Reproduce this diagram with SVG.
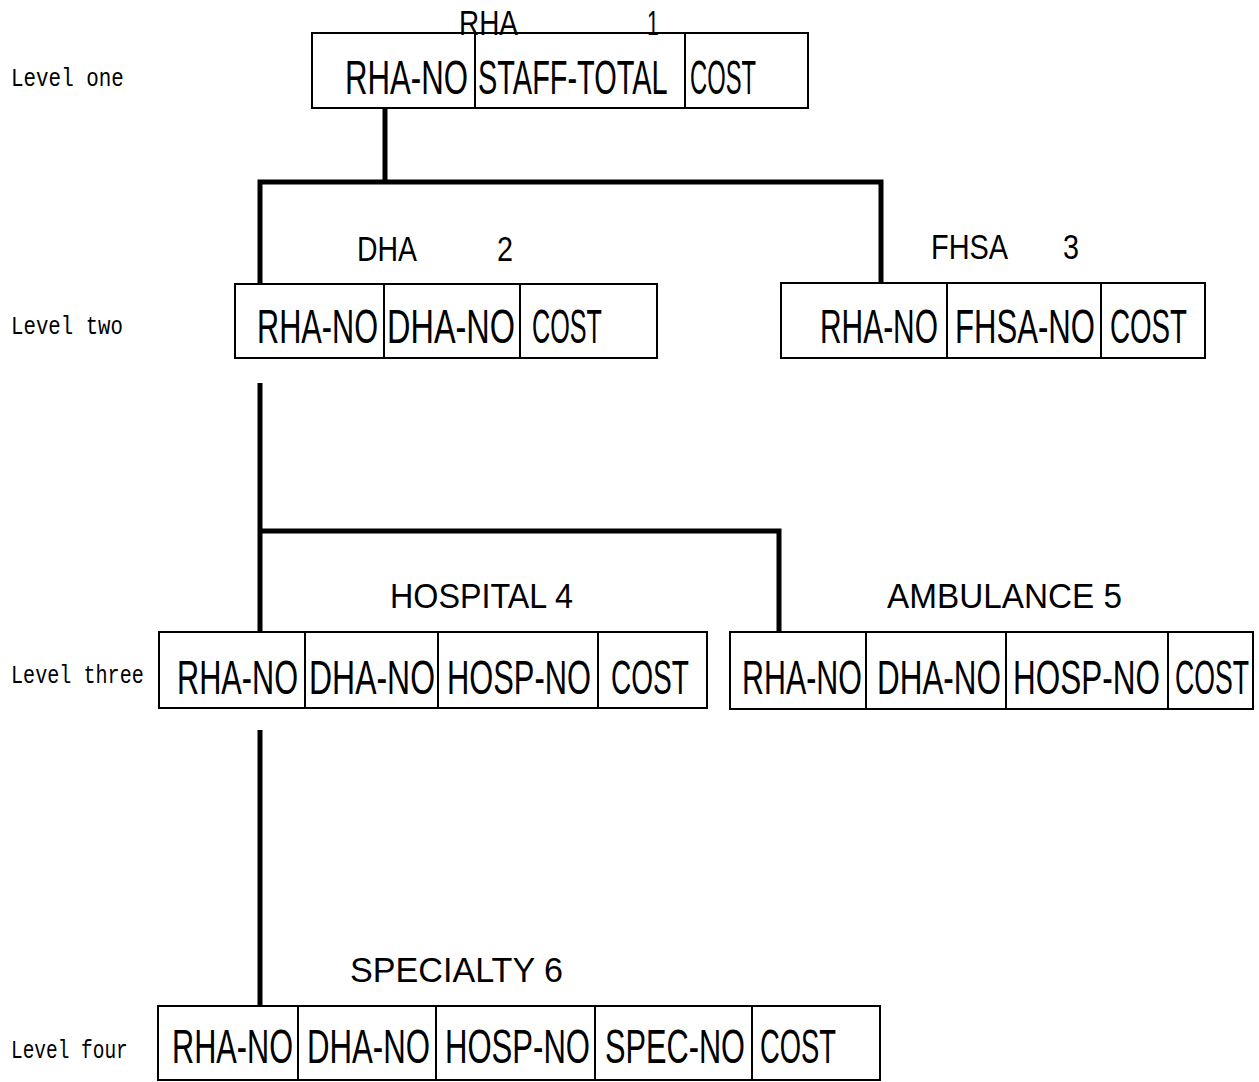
<svg xmlns="http://www.w3.org/2000/svg" width="1259" height="1082" viewBox="0 0 1259 1082">
  <style>
    .box { fill: #fff; stroke: #000; stroke-width: 2; }
    .div { stroke: #000; stroke-width: 2; }
    .field { font-family: "Liberation Sans", Arial, sans-serif; font-size: 49px; fill: #000; }
    .title { font-family: "Liberation Sans", Arial, sans-serif; font-size: 35px; fill: #000; }
    .level { font-family: "Liberation Mono", "Courier New", monospace; font-size: 26px; fill: #000; }
    .link { fill: none; stroke: #000; stroke-width: 5; stroke-linejoin: miter; }
  </style>

  <!-- level captions (condensed monospace) -->
  <g id="levels">
    <text class="level" transform="translate(11 86) scale(0.8 1)" textLength="141" lengthAdjust="spacingAndGlyphs">Level one</text>
    <text class="level" transform="translate(11 334) scale(0.8 1)" textLength="140" lengthAdjust="spacingAndGlyphs">Level two</text>
    <text class="level" transform="translate(11 683) scale(0.8 1)" textLength="166" lengthAdjust="spacingAndGlyphs">Level three</text>
    <text class="level" transform="translate(11 1058) scale(0.8 1)" textLength="146" lengthAdjust="spacingAndGlyphs">Level four</text>
  </g>

  <!-- hierarchy connectors -->
  <g id="connectors">
    <path class="link" d="M385 108 V182"/>
    <path class="link" d="M260 285 V182 H881 V283"/>
    <path class="link" d="M260 383 V632"/>
    <path class="link" d="M260 531 H779 V632"/>
    <path class="link" d="M260 730 V1006"/>
  </g>

  <!-- RHA record (1) -->
  <g id="rha">
    <rect class="box" x="312" y="33" width="496" height="75"/>
    <line class="div" x1="475" y1="33" x2="475" y2="108"/>
    <line class="div" x1="685" y1="33" x2="685" y2="108"/>
    <text class="title" transform="translate(459 35) scale(0.85 1)" textLength="69.4" lengthAdjust="spacingAndGlyphs">RHA</text>
    <text class="title" transform="translate(647 35) scale(0.85 1)" textLength="14.1" lengthAdjust="spacingAndGlyphs">1</text>
    <text class="field" transform="translate(345 94) scale(0.62 1)" textLength="198.4" lengthAdjust="spacingAndGlyphs">RHA-NO</text>
    <text class="field" transform="translate(478 94) scale(0.62 1)" textLength="306" lengthAdjust="spacingAndGlyphs">STAFF-TOTAL</text>
    <text class="field" transform="translate(690 94) scale(0.62 1)" textLength="106.5" lengthAdjust="spacingAndGlyphs">COST</text>
  </g>

  <!-- DHA record (2) -->
  <g id="dha">
    <rect class="box" x="235" y="284" width="422" height="74"/>
    <line class="div" x1="384" y1="284" x2="384" y2="358"/>
    <line class="div" x1="520" y1="284" x2="520" y2="358"/>
    <text class="title" transform="translate(357 261) scale(0.85 1)" textLength="70.6" lengthAdjust="spacingAndGlyphs">DHA</text>
    <text class="title" transform="translate(497 261) scale(0.85 1)" textLength="18.8" lengthAdjust="spacingAndGlyphs">2</text>
    <text class="field" transform="translate(257 343) scale(0.62 1)" textLength="195.2" lengthAdjust="spacingAndGlyphs">RHA-NO</text>
    <text class="field" transform="translate(387 343) scale(0.62 1)" textLength="206.5" lengthAdjust="spacingAndGlyphs">DHA-NO</text>
    <text class="field" transform="translate(532 343) scale(0.62 1)" textLength="112.9" lengthAdjust="spacingAndGlyphs">COST</text>
  </g>

  <!-- FHSA record (3) -->
  <g id="fhsa">
    <rect class="box" x="781" y="283" width="424" height="75"/>
    <line class="div" x1="947" y1="283" x2="947" y2="358"/>
    <line class="div" x1="1101" y1="283" x2="1101" y2="358"/>
    <text class="title" transform="translate(931 259) scale(0.85 1)" textLength="90.6" lengthAdjust="spacingAndGlyphs">FHSA</text>
    <text class="title" transform="translate(1063 259) scale(0.85 1)" textLength="18.8" lengthAdjust="spacingAndGlyphs">3</text>
    <text class="field" transform="translate(820 343) scale(0.62 1)" textLength="190.3" lengthAdjust="spacingAndGlyphs">RHA-NO</text>
    <text class="field" transform="translate(955 343) scale(0.62 1)" textLength="225.8" lengthAdjust="spacingAndGlyphs">FHSA-NO</text>
    <text class="field" transform="translate(1110 343) scale(0.62 1)" textLength="124.2" lengthAdjust="spacingAndGlyphs">COST</text>
  </g>

  <!-- HOSPITAL record (4) -->
  <g id="hospital">
    <rect class="box" x="159" y="632" width="548" height="76"/>
    <line class="div" x1="305" y1="632" x2="305" y2="708"/>
    <line class="div" x1="438" y1="632" x2="438" y2="708"/>
    <line class="div" x1="598" y1="632" x2="598" y2="708"/>
    <text class="title" transform="translate(390 608) scale(0.85 1)" textLength="215.3" lengthAdjust="spacingAndGlyphs">HOSPITAL 4</text>
    <text class="field" transform="translate(177 694) scale(0.62 1)" textLength="195.2" lengthAdjust="spacingAndGlyphs">RHA-NO</text>
    <text class="field" transform="translate(309 694) scale(0.62 1)" textLength="203.2" lengthAdjust="spacingAndGlyphs">DHA-NO</text>
    <text class="field" transform="translate(447 694) scale(0.62 1)" textLength="232.3" lengthAdjust="spacingAndGlyphs">HOSP-NO</text>
    <text class="field" transform="translate(611 694) scale(0.62 1)" textLength="125.8" lengthAdjust="spacingAndGlyphs">COST</text>
  </g>

  <!-- AMBULANCE record (5) -->
  <g id="ambulance">
    <rect class="box" x="730" y="632" width="523" height="77"/>
    <line class="div" x1="866" y1="632" x2="866" y2="709"/>
    <line class="div" x1="1006" y1="632" x2="1006" y2="709"/>
    <line class="div" x1="1168" y1="632" x2="1168" y2="709"/>
    <text class="title" transform="translate(887 608) scale(0.85 1)" textLength="276.5" lengthAdjust="spacingAndGlyphs">AMBULANCE 5</text>
    <text class="field" transform="translate(742 694) scale(0.62 1)" textLength="193.5" lengthAdjust="spacingAndGlyphs">RHA-NO</text>
    <text class="field" transform="translate(877 694) scale(0.62 1)" textLength="200" lengthAdjust="spacingAndGlyphs">DHA-NO</text>
    <text class="field" transform="translate(1013 694) scale(0.62 1)" textLength="237.1" lengthAdjust="spacingAndGlyphs">HOSP-NO</text>
    <text class="field" transform="translate(1175 694) scale(0.62 1)" textLength="119.4" lengthAdjust="spacingAndGlyphs">COST</text>
  </g>

  <!-- SPECIALTY record (6) -->
  <g id="specialty">
    <rect class="box" x="158" y="1006" width="722" height="74"/>
    <line class="div" x1="298" y1="1006" x2="298" y2="1080"/>
    <line class="div" x1="436" y1="1006" x2="436" y2="1080"/>
    <line class="div" x1="595" y1="1006" x2="595" y2="1080"/>
    <line class="div" x1="752" y1="1006" x2="752" y2="1080"/>
    <text class="title" transform="translate(350 982) scale(0.85 1)" textLength="250.6" lengthAdjust="spacingAndGlyphs">SPECIALTY 6</text>
    <text class="field" transform="translate(172 1063) scale(0.62 1)" textLength="195.2" lengthAdjust="spacingAndGlyphs">RHA-NO</text>
    <text class="field" transform="translate(307 1063) scale(0.62 1)" textLength="198.4" lengthAdjust="spacingAndGlyphs">DHA-NO</text>
    <text class="field" transform="translate(445 1063) scale(0.62 1)" textLength="233.9" lengthAdjust="spacingAndGlyphs">HOSP-NO</text>
    <text class="field" transform="translate(605 1063) scale(0.62 1)" textLength="225.8" lengthAdjust="spacingAndGlyphs">SPEC-NO</text>
    <text class="field" transform="translate(760 1063) scale(0.62 1)" textLength="122.6" lengthAdjust="spacingAndGlyphs">COST</text>
  </g>
</svg>
